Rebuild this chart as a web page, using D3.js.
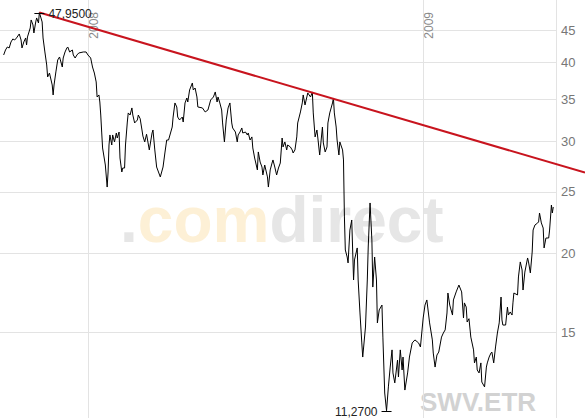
<!DOCTYPE html>
<html>
  <head>
    <meta charset="utf-8"/>
    <title>SWV.ETR</title>
    <script src="https://cdnjs.cloudflare.com/ajax/libs/d3/7.8.5/d3.min.js"></script>
    <style>
      body { margin: 0; background: #fff; }
      text { font-family: "Liberation Sans", Arial, sans-serif; }
    </style>
  </head>
  <body>
    <script>

      var outerWidth = 585;
      var outerHeight = 418;
      var plotRight = 556;

      // daily closes
      var dates = [
        "2007-10-01","2007-10-03","2007-10-05","2007-10-07","2007-10-09","2007-10-11","2007-10-13","2007-10-15",
        "2007-10-18","2007-10-20","2007-10-21","2007-10-23","2007-10-25","2007-10-26","2007-10-27","2007-10-30",
        "2007-10-31","2007-11-02","2007-11-03","2007-11-05","2007-11-06","2007-11-08","2007-11-09","2007-11-12",
        "2007-11-13","2007-11-15","2007-11-17","2007-11-18","2007-11-20","2007-11-23","2007-11-24","2007-11-25",
        "2007-11-27","2007-11-29","2007-12-01","2007-12-04","2007-12-05","2007-12-07","2007-12-09","2007-12-10",
        "2007-12-12","2007-12-15","2007-12-16","2007-12-18","2007-12-20","2007-12-22","2007-12-27","2007-12-30",
        "2008-01-01","2008-01-04","2008-01-06","2008-01-08","2008-01-10","2008-01-11","2008-01-13","2008-01-14",
        "2008-01-15","2008-01-16","2008-01-17","2008-01-20","2008-01-22","2008-01-23","2008-01-24","2008-01-25",
        "2008-01-27","2008-01-28","2008-01-30","2008-02-01","2008-02-02","2008-02-04","2008-02-05","2008-02-07",
        "2008-02-08","2008-02-10","2008-02-11","2008-02-13","2008-02-14","2008-02-16","2008-02-18","2008-02-19",
        "2008-02-21","2008-02-24","2008-02-25","2008-02-27","2008-02-29","2008-03-01","2008-03-03","2008-03-05",
        "2008-03-08","2008-03-11","2008-03-12","2008-03-14","2008-03-16","2008-03-20","2008-03-23","2008-03-25",
        "2008-03-27","2008-03-29","2008-04-02","2008-04-03","2008-04-05","2008-04-07","2008-04-08","2008-04-10",
        "2008-04-13","2008-04-14","2008-04-16","2008-04-18","2008-04-19","2008-04-21","2008-04-24","2008-04-25",
        "2008-04-27","2008-04-29","2008-04-30","2008-05-05","2008-05-08","2008-05-11","2008-05-14","2008-05-17",
        "2008-05-19","2008-05-21","2008-05-22","2008-05-24","2008-05-26","2008-05-27","2008-05-29","2008-05-31",
        "2008-06-02","2008-06-04","2008-06-06","2008-06-07","2008-06-10","2008-06-12","2008-06-13","2008-06-15",
        "2008-06-17","2008-06-18","2008-06-21","2008-06-23","2008-06-24","2008-06-26","2008-06-28","2008-06-29",
        "2008-07-01","2008-07-04","2008-07-05","2008-07-07","2008-07-09","2008-07-10","2008-07-12","2008-07-15",
        "2008-07-16","2008-07-18","2008-07-20","2008-07-21","2008-07-23","2008-07-25","2008-07-27","2008-07-29",
        "2008-07-31","2008-08-01","2008-08-03","2008-08-05","2008-08-06","2008-08-09","2008-08-11","2008-08-12",
        "2008-08-14","2008-08-16","2008-08-17","2008-08-20","2008-08-22","2008-08-23","2008-08-25","2008-08-27",
        "2008-08-28","2008-08-31","2008-09-02","2008-09-03","2008-09-05","2008-09-07","2008-09-08","2008-09-10",
        "2008-09-13","2008-09-14","2008-09-16","2008-09-18","2008-09-19","2008-09-21","2008-09-24","2008-09-25",
        "2008-09-26","2008-09-28","2008-09-29","2008-10-01","2008-10-02","2008-10-05","2008-10-06","2008-10-07",
        "2008-10-08","2008-10-10","2008-10-11","2008-10-13","2008-10-15","2008-10-17","2008-10-18","2008-10-21",
        "2008-10-22","2008-10-24","2008-10-26","2008-10-27","2008-10-30","2008-11-01","2008-11-02","2008-11-04",
        "2008-11-06","2008-11-07","2008-11-09","2008-11-11","2008-11-12","2008-11-14","2008-11-17","2008-11-18",
        "2008-11-20","2008-11-22","2008-11-24","2008-11-26","2008-11-28","2008-11-29","2008-12-01","2008-12-04",
        "2008-12-05","2008-12-07","2008-12-09","2008-12-10","2008-12-12","2008-12-15","2008-12-17","2008-12-20",
        "2008-12-23","2008-12-27","2008-12-29",
        "2009-01-01","2009-01-03","2009-01-05","2009-01-08","2009-01-11","2009-01-12","2009-01-14","2009-01-16",
        "2009-01-18","2009-01-21","2009-01-23","2009-01-25","2009-01-27","2009-01-28","2009-01-30","2009-02-02",
        "2009-02-03","2009-02-06","2009-02-09","2009-02-12","2009-02-14","2009-02-15","2009-02-17","2009-02-18",
        "2009-02-20","2009-02-22","2009-02-25","2009-02-26","2009-02-28","2009-03-01","2009-03-03","2009-03-05",
        "2009-03-06","2009-03-09","2009-03-11","2009-03-12","2009-03-14","2009-03-16","2009-03-17","2009-03-19",
        "2009-03-21","2009-03-23","2009-03-25","2009-03-27","2009-03-28","2009-03-29","2009-04-01","2009-04-03",
        "2009-04-04","2009-04-06","2009-04-08","2009-04-09","2009-04-10","2009-04-14","2009-04-15","2009-04-17",
        "2009-04-19","2009-04-20","2009-04-22","2009-04-25","2009-04-26","2009-04-28","2009-04-30","2009-05-01",
        "2009-05-03","2009-05-06","2009-05-07","2009-05-08","2009-05-10","2009-05-12","2009-05-13","2009-05-15",
        "2009-05-18","2009-05-19","2009-05-21","2009-05-22","2009-05-23"
      ];

      var closes = [
        41.09,41.84,42.30,42.15,43.08,43.55,43.39,43.71,
        44.35,43.39,42.15,43.08,43.71,42.61,43.87,45.33,
        46.67,45.83,44.51,46.33,47.01,46.16,47.95,46.33,
        43.71,41.54,39.62,37.93,38.48,36.84,35.53,36.84,
        38.63,40.35,40.79,39.33,40.64,41.54,42.15,42.30,
        41.54,41.84,41.09,40.64,41.09,41.39,41.54,41.54,
        41.09,40.64,39.33,38.48,37.25,35.27,35.53,34.63,
        33.03,31.05,29.30,27.54,25.42,26.85,29.62,30.72,
        29.62,30.72,29.95,30.94,30.38,31.05,28.25,26.85,
        27.24,27.24,29.62,32.20,33.28,33.03,33.89,33.03,
        32.09,32.44,33.03,32.60,31.28,30.60,29.95,30.80,
        29.09,30.94,31.28,29.09,27.34,26.37,27.34,28.77,
        30.16,30.16,31.62,32.79,34.51,34.01,32.79,32.44,
        32.79,32.20,34.51,35.14,34.63,36.18,37.11,36.18,
        36.44,35.27,34.01,33.89,33.40,33.64,34.89,35.27,
        35.92,34.63,35.27,34.51,33.64,32.09,29.95,32.44,
        33.89,34.51,32.09,31.51,31.05,29.95,30.72,31.05,
        31.51,30.94,31.05,30.72,30.94,30.16,30.50,29.30,
        28.25,27.05,28.88,27.84,27.34,26.56,27.54,26.37,
        25.42,27.05,27.74,28.05,27.34,26.56,27.24,27.74,
        30.38,29.41,29.95,29.09,29.62,29.41,29.09,28.77,
        29.09,30.50,32.09,33.40,34.51,35.53,34.26,35.27,
        35.79,35.27,35.92,33.28,30.50,31.28,30.38,28.56,
        31.62,29.84,28.88,29.41,32.09,33.28,34.51,35.14,
        33.28,31.62,30.16,28.56,29.95,29.09,28.05,22.80,
        20.22,19.71,19.29,21.74,22.55,18.13,19.50,20.37,
        18.13,16.08,14.42,13.70,15.28,18.13,20.44,23.99,
        20.97,17.67,19.71,18.13,15.51,16.26,16.55,14.73,
        12.02,11.27,12.29,13.21,14.06,12.93,12.47,13.55,
        12.74,14.06,13.07,13.70,12.15,12.93,13.70,14.42,
        14.58,14.42,14.21,
        15.79,16.55,16.86,15.51,14.58,13.90,13.21,13.80,
        13.95,14.73,14.95,15.12,16.08,17.29,16.55,15.96,
        16.86,17.36,17.80,17.36,15.79,16.68,16.43,15.56,
        15.75,14.73,14.06,13.41,13.70,13.07,12.93,13.41,
        12.51,12.29,13.21,13.41,13.70,13.90,13.95,13.41,
        14.21,14.95,15.51,17.04,15.68,15.39,15.39,16.43,
        15.96,16.14,15.96,16.68,17.29,17.17,18.33,19.36,
        18.80,17.48,18.66,19.64,19.36,18.60,20.07,21.74,
        22.14,22.31,22.39,23.13,22.31,21.90,20.37,21.12,
        21.12,21.74,23.81,23.13,23.64
      ];

      var yTicks = [15, 20, 25, 30, 35, 40, 45];
      var yearTicks = ["2008-01-01", "2009-01-01"];
      var trendDates = ["2007-11-09", "2009-03-01"];
      var trendValues = [47.95, 30.05];
      var symbol = "SWV.ETR";

      var parseDate = d3.timeParse("%Y-%m-%d");
      var de = d3.formatLocale({decimal: ",", thousands: ".", grouping: [3], currency: ["", " €"]});
      var fmt = de.format(".4f");

      var data = dates.map(function (d, i){ return {date: parseDate(d), close: closes[i]}; });

      var svg = d3.select("body").append("svg")
        .attr("width", outerWidth)
        .attr("height", outerHeight)
        .style("display", "block");

      var xScale = d3.scaleTime()
        .domain([parseDate("2007-09-27"), parseDate("2009-05-26")])
        .range([0, plotRight]);
      var yScale = d3.scaleLog()
        .domain([11, 50])
        .range([417.4, 1]);

      // watermark
      var wm = svg.append("text")
        .attr("x", 120)
        .attr("y", 242)
        .style("font-size", "64px")
        .style("font-weight", "bold");
      wm.append("tspan").attr("fill", "#e6e6e6").text(".");
      wm.append("tspan").attr("fill", "#fdf0d6").text("com");
      wm.append("tspan").attr("fill", "#e6e6e6").text("direct");

      svg.append("text")
        .attr("x", 420)
        .attr("y", 411)
        .attr("fill", "#d2d2d2")
        .style("font-size", "26px")
        .style("font-weight", "bold")
        .text(symbol);

      // grid
      var grid = svg.append("g").attr("stroke", "#e3e3e3").attr("stroke-width", 1);
      grid.selectAll("line.h").data(yTicks).enter().append("line")
        .attr("x1", 0)
        .attr("x2", plotRight)
        .attr("y1", function (d){ return Math.round(yScale(d)) + 0.5; })
        .attr("y2", function (d){ return Math.round(yScale(d)) + 0.5; });
      grid.selectAll("line.v").data(yearTicks).enter().append("line")
        .attr("x1", function (d){ return Math.round(xScale(parseDate(d))) + 0.5; })
        .attr("x2", function (d){ return Math.round(xScale(parseDate(d))) + 0.5; })
        .attr("y1", 0)
        .attr("y2", outerHeight);
      grid.append("line")
        .attr("x1", plotRight + 0.5).attr("x2", plotRight + 0.5)
        .attr("y1", 0).attr("y2", outerHeight);

      // year labels
      svg.selectAll("text.year").data(yearTicks).enter().append("text")
        .attr("transform", function (d){
          return "translate(" + (xScale(parseDate(d)) + 10) + ",12) rotate(-90)";
        })
        .attr("text-anchor", "end")
        .attr("fill", "#8a8a8a")
        .style("font-size", "12px")
        .text(function (d){ return d.slice(0, 4); });

      // y axis labels
      svg.selectAll("text.ytick").data(yTicks).enter().append("text")
        .attr("x", 561)
        .attr("y", function (d){ return yScale(d); })
        .attr("dy", "0.35em")
        .attr("fill", "#777")
        .style("font-size", "13px")
        .text(function (d){ return d; });

      // price line
      var line = d3.line()
        .x(function (d){ return xScale(d.date); })
        .y(function (d){ return yScale(d.close); });
      svg.append("path")
        .datum(data)
        .attr("fill", "none")
        .attr("stroke", "#000")
        .attr("stroke-width", 1)
        .attr("d", line);

      // trend line through the two tops, run out to the edge
      var tx0 = xScale(parseDate(trendDates[0])), ty0 = yScale(trendValues[0]);
      var tx1 = xScale(parseDate(trendDates[1])), ty1 = yScale(trendValues[1]);
      var slope = (ty1 - ty0) / (tx1 - tx0);
      svg.append("line")
        .attr("x1", tx0).attr("y1", ty0)
        .attr("x2", outerWidth).attr("y2", ty0 + slope * (outerWidth - tx0))
        .attr("stroke", "#c8141e")
        .attr("stroke-width", 2);

      // high / low markers
      var hi = data[d3.maxIndex(data, function (d){ return d.close; })];
      var lo = data[d3.minIndex(data, function (d){ return d.close; })];
      [hi, lo].forEach(function (d){
        var x = xScale(d.date), y = Math.round(yScale(d.close)) + 0.5;
        svg.append("line")
          .attr("x1", x - 5).attr("x2", x + 5)
          .attr("y1", y).attr("y2", y)
          .attr("stroke", "#000");
        svg.append("text")
          .attr("x", d === hi ? x + 9 : x - 9)
          .attr("y", y)
          .attr("dy", "0.35em")
          .attr("text-anchor", d === hi ? "start" : "end")
          .attr("fill", "#222")
          .style("font-size", "12px")
          .text(fmt(d.close));
      });

    </script>
  </body>
</html>
